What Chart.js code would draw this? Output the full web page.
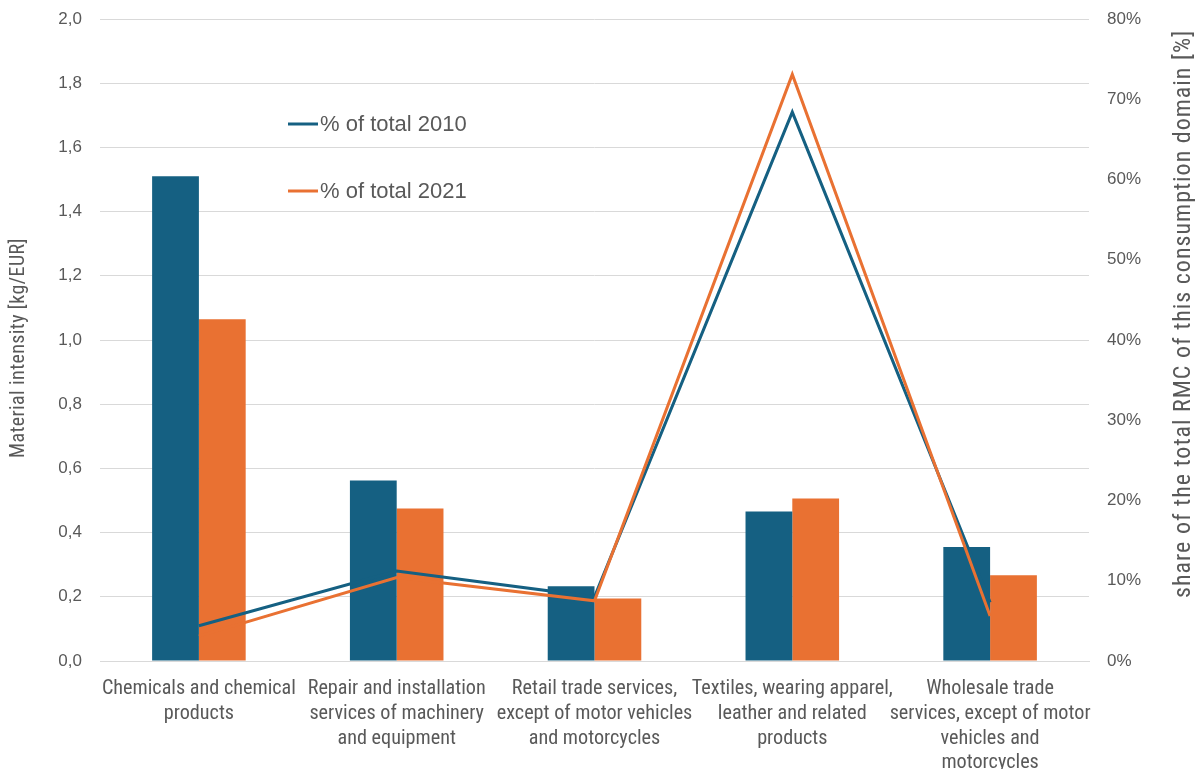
<!DOCTYPE html>
<html>
<head>
<meta charset="utf-8">
<script src="https://cdn.jsdelivr.net/npm/chart.js@4"></script>
<style>
  html, body { margin: 0; padding: 0; background: #ffffff; }
  #wrap { width: 1204px; height: 769px; }
</style>
</head>
<body>
<div id="wrap"><canvas id="chart" width="1204" height="769"></canvas></div>
<script>
// Consumption domains (multi-line category labels)
const categories = [
  ["Chemicals and chemical", "products"],
  ["Repair and installation", "services of machinery", "and equipment"],
  ["Retail trade services,", "except of motor vehicles", "and motorcycles"],
  ["Textiles, wearing apparel,", "leather and related", "products"],
  ["Wholesale trade", "services, except of motor", "vehicles and", "motorcycles"]
];

// Material intensity, kg/EUR (left axis)
const intensity2010 = [1.51, 0.562, 0.233, 0.466, 0.355];
const intensity2021 = [1.065, 0.475, 0.195, 0.506, 0.267];

// Share of total RMC of the consumption domain, % (right axis)
const share2010 = [4.4, 11.2, 8.0, 68.4, 7.3];
const share2021 = [3.1, 10.4, 7.5, 73.1, 5.6];

const leftTicks = [0, 0.2, 0.4, 0.6, 0.8, 1.0, 1.2, 1.4, 1.6, 1.8, 2.0];
const rightTicks = [0, 10, 20, 30, 40, 50, 60, 70, 80];

const BLUE = '#156082';
const ORANGE = '#E97132';
const TEXT = '#595959';
const GRID = '#d9d9d9';
const NARROW = 'Roboto, sans-serif';          // used with font-stretch "condensed"
const REGULAR = '"Liberation Sans", sans-serif';

// Axis titles and the in-plot line legend
const decorations = {
  id: 'decorations',
  afterDraw(chart) {
    const ctx = chart.ctx;
    ctx.save();
    ctx.fillStyle = TEXT;
    ctx.textBaseline = 'middle';

    // left axis title
    ctx.save();
    ctx.font = 'condensed 20px ' + NARROW;
    ctx.letterSpacing = '0.4px';
    ctx.translate(19, 348);
    ctx.rotate(-Math.PI / 2);
    ctx.textAlign = 'center';
    ctx.fillText('Material intensity [kg/EUR]', 0, 0);
    ctx.restore();

    // right axis title, reading upwards from just above the 10% level
    ctx.save();
    ctx.font = 'condensed 24px ' + NARROW;
    ctx.letterSpacing = '1px';
    ctx.translate(1184, 598);
    ctx.rotate(-Math.PI / 2);
    ctx.textAlign = 'left';
    ctx.fillText('share of the total RMC of this consumption domain [%]', 0, 0);
    ctx.restore();

    // legend for the two share lines
    const items = [
      { label: '% of total 2010', color: BLUE, y: 124 },
      { label: '% of total 2021', color: ORANGE, y: 191 }
    ];
    ctx.font = '22px ' + REGULAR;
    ctx.textAlign = 'left';
    items.forEach(it => {
      ctx.strokeStyle = it.color;
      ctx.lineWidth = 3;
      ctx.beginPath();
      ctx.moveTo(288, it.y);
      ctx.lineTo(318, it.y);
      ctx.stroke();
      ctx.fillStyle = TEXT;
      ctx.fillText(it.label, 320, it.y + 1);
    });
    ctx.restore();
  }
};

// vertical axes: keep the label gap but do not let it push the plot area down
function fixVertical(width) {
  return scale => {
    scale.width = width;
    scale.paddingTop = 0;
    scale.paddingBottom = 0;
  };
}

new Chart(document.getElementById('chart'), {
  type: 'bar',
  data: {
    labels: categories,
    datasets: [
      {
        type: 'line', label: '% of total 2021', data: share2021, yAxisID: 'y1',
        borderColor: ORANGE, borderWidth: 3, pointRadius: 0, fill: false, tension: 0, order: 0
      },
      {
        type: 'line', label: '% of total 2010', data: share2010, yAxisID: 'y1',
        borderColor: BLUE, borderWidth: 3, pointRadius: 0, fill: false, tension: 0, order: 1
      },
      {
        label: '2010', data: intensity2010, yAxisID: 'y',
        backgroundColor: BLUE, borderWidth: 0, order: 2,
        categoryPercentage: 0.473, barPercentage: 1.0
      },
      {
        label: '2021', data: intensity2021, yAxisID: 'y',
        backgroundColor: ORANGE, borderWidth: 0, order: 3,
        categoryPercentage: 0.473, barPercentage: 1.0
      }
    ]
  },
  options: {
    responsive: false,
    animation: false,
    layout: { padding: { top: 19, left: 0, right: 0, bottom: 0 } },
    plugins: {
      legend: { display: false },
      tooltip: { enabled: false }
    },
    scales: {
      x: {
        offset: true,
        grid: { display: false },
        border: { display: true, color: GRID, width: 1 },
        ticks: {
          color: TEXT, font: { family: NARROW, weight: 'condensed', size: 20.2, lineHeight: 1.22 },
          maxRotation: 0, autoSkip: false, padding: 8
        },
        afterFit(scale) { scale.height = 108; }
      },
      y: {
        position: 'left',
        min: 0, max: 2,
        afterBuildTicks(scale) { scale.ticks = leftTicks.map(v => ({ value: v })); },
        grid: { color: GRID, lineWidth: 1, drawTicks: false },
        border: { display: false },
        ticks: {
          color: TEXT, font: { family: REGULAR, size: 17 }, padding: 18,
          callback: v => v.toFixed(1).replace('.', ',')
        },
        afterFit: fixVertical(100)
      },
      y1: {
        position: 'right',
        min: 0, max: 80,
        afterBuildTicks(scale) { scale.ticks = rightTicks.map(v => ({ value: v })); },
        grid: { drawOnChartArea: false, drawTicks: false },
        border: { display: false },
        ticks: {
          color: TEXT, font: { family: REGULAR, size: 17 }, padding: 18,
          callback: v => v + '%'
        },
        afterFit: fixVertical(115)
      }
    }
  },
  plugins: [decorations]
});
</script>
</body>
</html>
